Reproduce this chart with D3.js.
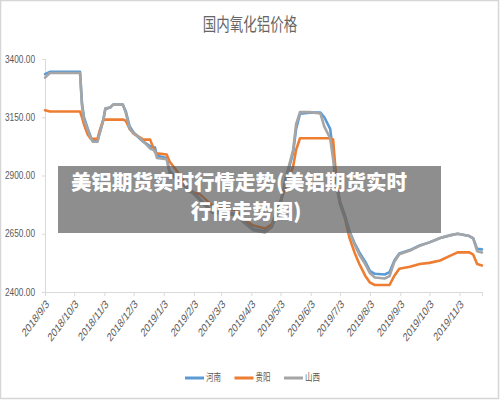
<!DOCTYPE html>
<html>
<head>
<meta charset="utf-8">
<script src="https://cdn.jsdelivr.net/npm/d3@7"></script>
<style>
  body { margin: 0; background: #fff; }
  svg { display: block; font-family: "Liberation Sans", "Noto Sans CJK SC", sans-serif; }
</style>
</head>
<body>
<svg id="chart" width="500" height="401"></svg>
<script>
// data
const dates = ["2018-09-03","2018-09-08","2018-10-09","2018-10-11","2018-10-13","2018-10-17","2018-10-20","2018-10-22",
  "2018-10-27","2018-10-29","2018-11-02","2018-11-04","2018-11-09","2018-11-12","2018-11-22","2018-11-25","2018-11-29",
  "2018-12-03","2018-12-09","2018-12-13","2018-12-15","2018-12-20","2018-12-25","2018-12-27","2019-01-06","2019-01-09",
  "2019-01-20","2019-01-30","2019-02-09","2019-02-22","2019-03-19","2019-03-27","2019-04-05","2019-04-17","2019-04-24",
  "2019-05-02","2019-05-09","2019-05-16","2019-05-19","2019-05-23","2019-06-02","2019-06-13","2019-06-17","2019-06-23",
  "2019-06-26","2019-06-29","2019-07-03","2019-07-08","2019-07-13","2019-07-18","2019-07-23","2019-07-29","2019-08-03",
  "2019-08-08","2019-08-18","2019-08-23","2019-08-28","2019-09-02","2019-09-13","2019-09-23","2019-10-03","2019-10-14",
  "2019-10-24","2019-11-01","2019-11-13","2019-11-17","2019-11-21","2019-11-26"];
const henan = [3335,3345,3345,3210,3150,3100,3065,3050,3050,3080,3140,3185,3192,3204,3204,3175,3110,
  3085,3060,3045,3040,3025,3020,2985,2975,2920,2870,2840,2800,2745,2735,2700,2670,2660,2680,
  2760,2890,3000,3100,3165,3170,3170,3150,3100,3000,2880,2790,2730,2660,2610,2570,2530,2490,
  2478,2475,2485,2535,2565,2580,2600,2613,2632,2643,2650,2640,2630,2585,2583];
const guiyang = [3180,3175,3175,3150,3120,3075,3058,3058,3058,3090,3140,3140,3140,3140,3140,3135,3100,
  3080,3065,3054,3054,3054,3000,2995,2990,2960,2900,2830,2820,2770,2750,2710,2685,2672,2690,
  2780,2860,2940,3010,3060,3060,3060,3060,3060,3055,2900,2780,2720,2630,2570,2520,2470,2440,
  2430,2430,2430,2470,2500,2508,2520,2525,2535,2555,2570,2570,2560,2520,2514];
const shanxi = [3320,3340,3340,3200,3140,3095,3060,3045,3045,3080,3140,3188,3192,3204,3204,3170,3100,
  3082,3063,3045,3038,3016,3007,2975,2970,2910,2870,2835,2795,2740,2730,2695,2665,2655,2678,
  2765,2900,3010,3120,3172,3172,3166,3110,3060,2970,2860,2780,2720,2655,2605,2560,2520,2480,
  2462,2458,2468,2530,2562,2578,2598,2613,2632,2643,2650,2640,2630,2575,2570];
const seriesNames = ["河南", "贵阳", "山西"];
const seriesColors = ["#5B9BD5", "#ED7D31", "#A5A5A5"];
const yTicks = [2400, 2650, 2900, 3150, 3400];
const xTickLabels = ["2018/9/3","2018/10/3","2018/11/3","2018/12/3","2019/1/3","2019/2/3","2019/3/3",
  "2019/4/3","2019/5/3","2019/6/3","2019/7/3","2019/8/3","2019/9/3","2019/10/3","2019/11/3"];
const title = "国内氧化铝价格";
const bannerLines = ["美铝期货实时行情走势(美铝期货实时", "行情走势图)"];

const STRETCH = 1.35; // the source picture is squeezed horizontally
const parseDate = d3.timeParse("%Y-%m-%d");
const parseTick = d3.timeParse("%Y/%m/%d");
const svg = d3.select("#chart");

// frame
svg.append("rect").attr("x", 0.5).attr("y", 0.5).attr("width", 498).attr("height", 398)
  .attr("fill", "#fff").attr("stroke", "#d6d6d6").attr("stroke-width", 1.5);

const x = d3.scaleTime()
  .domain([parseDate("2018-09-03"), parseDate("2019-11-26")])
  .range([45, 482]);
const y = d3.scaleLinear().domain([2400, 3400]).range([292, 59]);

// title
svg.append("text")
  .attr("transform", "translate(250,31) scale(1," + STRETCH + ")")
  .attr("text-anchor", "middle")
  .attr("font-size", 13.5)
  .attr("fill", "#666")
  .text(title);

// y axis
const yAxis = svg.append("g")
  .attr("transform", "translate(45,0)")
  .call(d3.axisLeft(y).tickValues(yTicks).tickSize(3).tickFormat(d3.format(".2f")));
yAxis.select(".domain").attr("stroke", "#d9d9d9");
yAxis.selectAll(".tick line").attr("stroke", "#d9d9d9");
yAxis.selectAll(".tick text")
  .attr("x", 0).attr("y", 0).attr("dy", null)
  .attr("transform", "translate(-10,3) scale(1," + STRETCH + ")")
  .attr("font-size", 8.3)
  .attr("fill", "#595959");

// x axis
const xAxis = svg.append("g")
  .attr("transform", "translate(0,292)")
  .call(d3.axisBottom(x)
    .tickValues(xTickLabels.map(parseTick))
    .tickSize(4)
    .tickFormat((d, i) => xTickLabels[i]));
xAxis.select(".domain").attr("stroke", "#d9d9d9");
xAxis.selectAll(".tick line").attr("stroke", "#d9d9d9");
xAxis.selectAll(".tick text")
  .attr("x", 0).attr("y", 0).attr("dy", "0.35em")
  .attr("text-anchor", "end")
  .attr("transform", "translate(2,10) scale(1," + STRETCH + ") rotate(-45)")
  .attr("font-size", 8.8)
  .attr("fill", "#595959");

// lines
const series = [henan, guiyang, shanxi];
const line = d3.line()
  .x((d, i) => x(parseDate(dates[i])))
  .y(d => y(d));
svg.selectAll("path.series")
  .data(series)
  .enter().append("path")
  .attr("class", "series")
  .attr("fill", "none")
  .attr("stroke", (d, i) => seriesColors[i])
  .attr("stroke-width", 2.6)
  .attr("stroke-linejoin", "round")
  .attr("stroke-linecap", "round")
  .attr("d", line);

// legend
const legend = svg.append("g").attr("transform", "translate(185,378)");
seriesNames.forEach(function(name, i){
  const g = legend.append("g").attr("transform", "translate(" + (i * 49.5) + ",0)");
  g.append("line").attr("x1", 0).attr("x2", 19).attr("y1", 0).attr("y2", 0)
    .attr("stroke", seriesColors[i]).attr("stroke-width", 3);
  g.append("text")
    .attr("transform", "translate(21,3) scale(1," + STRETCH + ")")
    .attr("font-size", 7.5)
    .attr("fill", "#595959")
    .text(name);
});

// overlay banner
svg.append("rect").attr("x", 58).attr("y", 166).attr("width", 383).attr("height", 67)
  .attr("fill", "rgba(88,88,88,0.68)");
svg.selectAll("text.banner")
  .data(bannerLines)
  .enter().append("text")
  .attr("class", "banner")
  .attr("x", (d, i) => i === 0 ? 239 : 246)
  .attr("y", (d, i) => 190 + i * 29)
  .attr("text-anchor", "middle")
  .attr("font-family", "'Noto Sans CJK SC', sans-serif")
  .attr("font-weight", 900)
  .attr("font-size", 20.5)
  .attr("fill", "#fff")
  .text(d => d);
</script>
</body>
</html>
